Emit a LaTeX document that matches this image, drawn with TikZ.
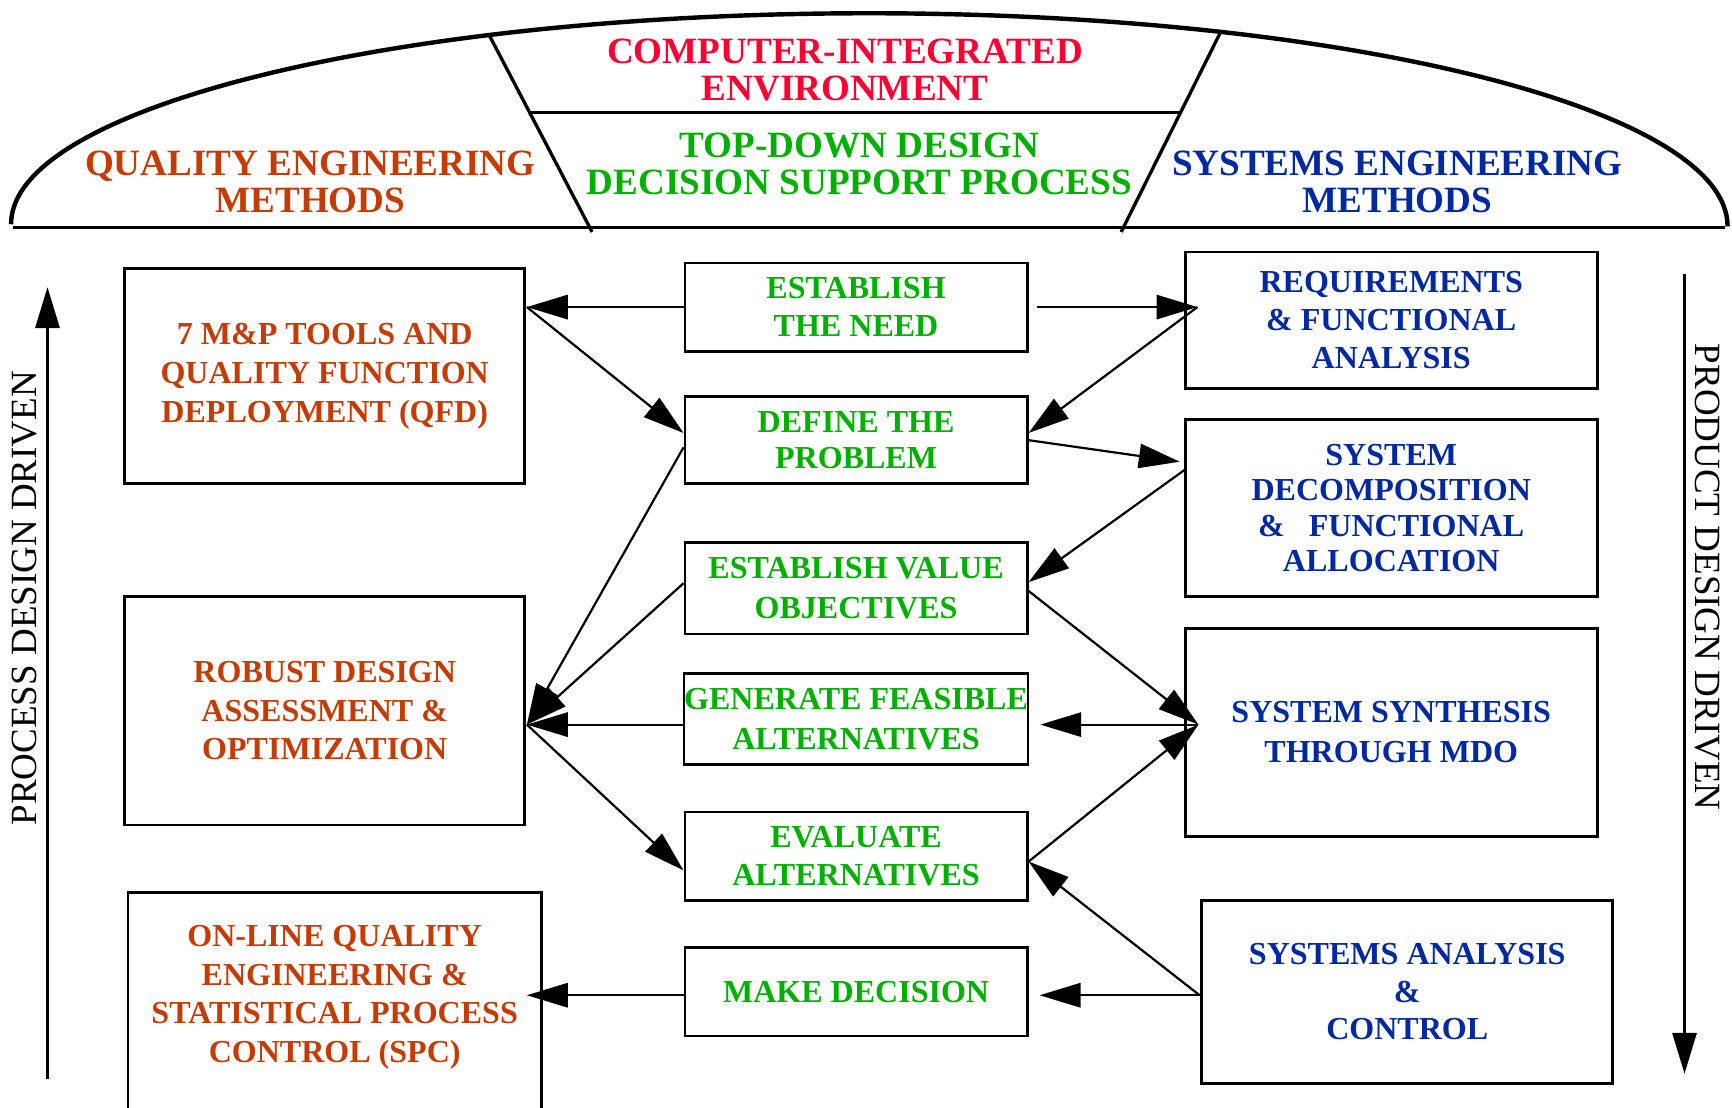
\documentclass[tikz,border=0pt]{standalone}
\usepackage{fontspec}
\setmainfont{Liberation Serif}
\usetikzlibrary{arrows.meta,calc}

\definecolor{qeorange}{RGB}{196,60,4}
\definecolor{cired}{RGB}{252,0,52}
\definecolor{tdgreen}{RGB}{0,176,0}
\definecolor{seblue}{RGB}{0,40,160}

\begin{document}
\begin{tikzpicture}[x=1pt,y=-1pt,
  box/.style={draw=black,line width=2.4pt,inner sep=0pt,align=center,
    font=\fontsize{29}{35}\selectfont\bfseries},
  qebox/.style={box,text=qeorange,minimum width=362pt},
  tdbox/.style={box,text=tdgreen,minimum width=310pt},
  sebox/.style={box,text=seblue,minimum width=373pt},
  heading/.style={align=center,inner sep=0pt,font=\fontsize{33.6}{33.5}\selectfont\bfseries},
  sidetext/.style={inner sep=0pt,font=\fontsize{33.5}{36}\selectfont},
  conn/.style={line width=2pt,-{Triangle[length=37pt,width=22pt]}},
]
\useasboundingbox (0,0) rectangle (1568,1003);
\fill[white] (0,0) rectangle (1568,1003);
\clip (0,0) rectangle (1568,1003);

% ---------- dome with the three areas ----------
\draw[line width=4pt] (10,203) .. controls (10,97.4) and (357.9,12) .. (787,12)
  .. controls (1216.1,12) and (1564,98.4) .. (1564,205);
\draw[line width=3.5pt] (12,206) -- (1562,206);
\draw[line width=3pt] (443,32) -- (536,210);
\draw[line width=3pt] (1105,29) -- (1015,210);
\draw[line width=3pt] (481,102) -- (1068,102);

\node[heading,text=cired] (cie) at (765,63.5) {COMPUTER-INTEGRATED\\ENVIRONMENT};
\node[heading,text=tdgreen] (tdd) at (778,148.5) {TOP-DOWN DESIGN\\DECISION SUPPORT PROCESS};
\node[heading,text=qeorange] (qem) at (281,165) {QUALITY ENGINEERING\\METHODS};
\node[heading,text=seblue] (sem) at (1265,165) {SYSTEMS ENGINEERING\\METHODS};

% ---------- side arrows ----------
\coordinate (pdBot) at (43,977);
\coordinate (pdTop) at (43,260);
\draw[conn] (pdBot) -- (pdTop);
\node[sidetext,rotate=90] (pdd) at (22,541.5) {PROCESS DESIGN DRIVEN};

\coordinate (prTop) at (1525,248);
\coordinate (prBot) at (1525,972);
\draw[conn] (prTop) -- (prBot);
\node[sidetext,rotate=-90] (prd) at (1546,522.5) {PRODUCT DESIGN DRIVEN};

% ---------- quality engineering column ----------
\node[qebox,minimum height=195pt] (qfd) at (294,340.5)
  {7 M\&P TOOLS AND\\QUALITY FUNCTION\\DEPLOYMENT (QFD)};
\node[qebox,minimum height=207pt] (robust) at (294,643.5)
  {ROBUST DESIGN\\ASSESSMENT \&\\OPTIMIZATION};
\node[box,minimum width=374pt,minimum height=204pt] (online) at (303,910) {};
\node[align=center,inner sep=0pt,text=qeorange,font=\fontsize{29}{35}\selectfont\bfseries]
  (onlinetext) at (303,903)
  {ON-LINE QUALITY\\ENGINEERING \&\\STATISTICAL PROCESS\\CONTROL (SPC)};

% ---------- decision process column ----------
\node[tdbox,minimum height=80pt] (need) at (775,278) {ESTABLISH\\THE NEED};
\node[tdbox,minimum height=79pt,font=\fontsize{29}{33}\selectfont\bfseries] (define) at (775,398.5) {DEFINE THE\\PROBLEM};
\node[tdbox,minimum height=83pt,font=\fontsize{29}{36}\selectfont\bfseries] (value) at (775,532.5) {ESTABLISH VALUE\\OBJECTIVES};
\node[tdbox,minimum height=82pt,font=\fontsize{29}{36}\selectfont\bfseries] (generate) at (775,651) {GENERATE FEASIBLE\\ALTERNATIVES};
\node[tdbox,minimum height=80pt,font=\fontsize{29}{34}\selectfont\bfseries] (evaluate) at (775,775) {EVALUATE\\ALTERNATIVES};
\node[tdbox,minimum height=80pt] (decide) at (775,898) {MAKE DECISION};

% ---------- systems engineering column ----------
\node[sebox,minimum height=124pt,font=\fontsize{29}{34.5}\selectfont\bfseries] (req) at (1259.5,290)
  {REQUIREMENTS\\\& FUNCTIONAL\\ANALYSIS};
\node[sebox,minimum height=160pt,font=\fontsize{29}{32}\selectfont\bfseries] (decomp) at (1259.5,460)
  {SYSTEM\\DECOMPOSITION\\\&~~~FUNCTIONAL\\ALLOCATION};
\node[sebox,minimum height=188pt,font=\fontsize{29}{36}\selectfont\bfseries] (synth) at (1259.5,663)
  {SYSTEM SYNTHESIS\\THROUGH MDO};
\node[sebox,minimum width=372pt,minimum height=166pt,font=\fontsize{29}{34}\selectfont\bfseries] (analysis) at (1274,898)
  {SYSTEMS ANALYSIS\\\&\\CONTROL};

% ---------- junction points of the connectors ----------
\coordinate (qfdJ) at (477,278);
\coordinate (reqJ) at (1084,278);
\coordinate (decIn) at (1068,418);
\coordinate (decOut) at (1073,425);
\coordinate (robJ) at (477,656);
\coordinate (synJ) at (1085,656);
\coordinate (anaJ) at (1086,901);
\coordinate (onlineJ) at (477,901);

% ---------- connectors ----------
\draw[conn] (need.west) -- (qfdJ);
\draw[conn] ([xshift=8pt]need.east) -- (reqJ);
\draw[conn] (qfdJ) -- ([yshift=6.5pt]define.west);
\draw[conn] (reqJ) -- ([yshift=6.5pt]define.east);
\draw[conn] (define.east) -- (decIn);
\draw[conn] (decOut) -- ([yshift=5.5pt]value.east);
\draw[conn] ([yshift=-6.5pt]define.west) -- (robJ);
\draw[conn] ([yshift=4.5pt]value.west) -- (robJ);
\draw[conn] ([yshift=-5pt]generate.west) -- (robJ);
\draw[conn] (robJ) -- ([yshift=-13pt]evaluate.west);
\draw[conn] ([yshift=-2.5pt]value.east) -- (synJ);
\draw[conn] (synJ) -- ([xshift=10pt,yshift=-5pt]generate.east);
\draw[conn] ([yshift=-5pt]evaluate.east) -- (synJ);
\draw[conn] (anaJ) -- ([yshift=-5pt]evaluate.east);
\draw[conn] (anaJ) -- ([xshift=10pt,yshift=-3pt]decide.east);
\draw[conn] ([yshift=-3pt]decide.west) -- (onlineJ);
\end{tikzpicture}
\end{document}
